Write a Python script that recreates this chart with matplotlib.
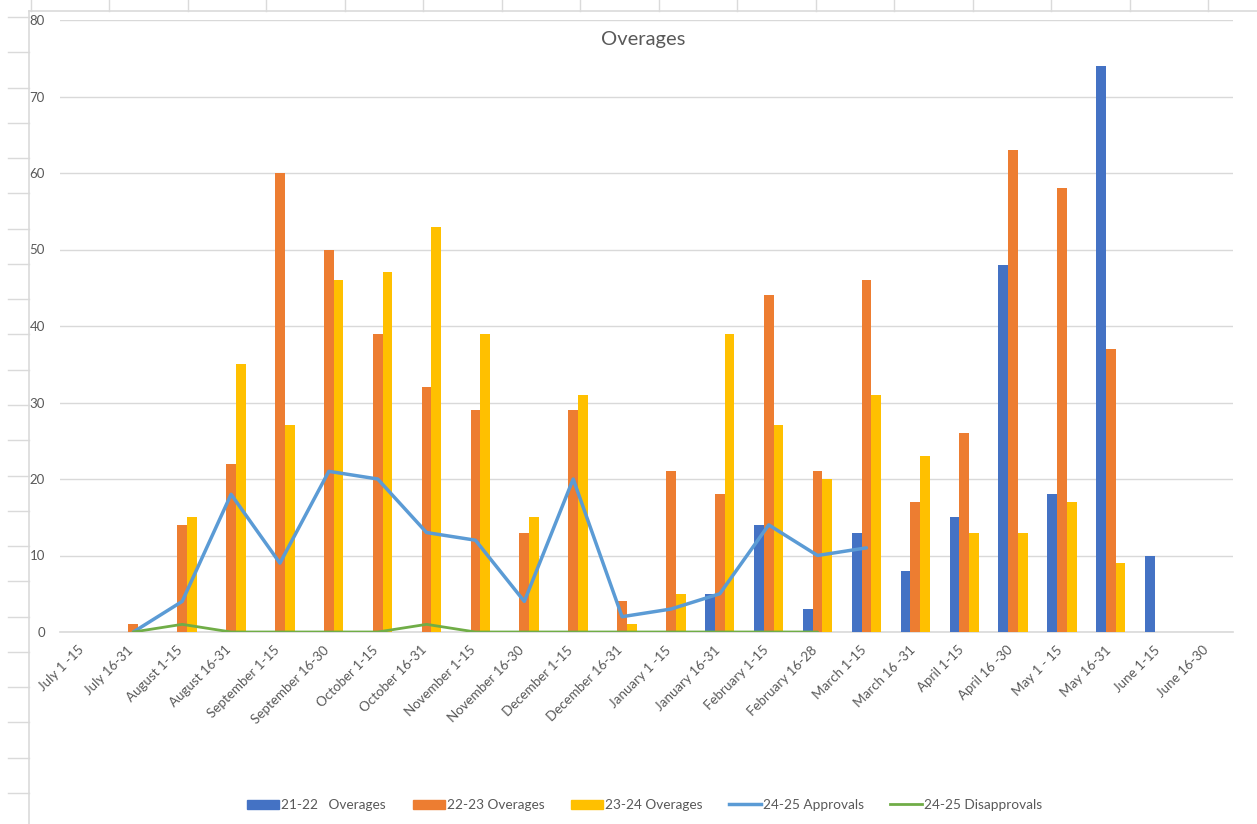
import numpy as np
import matplotlib.pyplot as plt
from matplotlib.lines import Line2D
from matplotlib.patches import Patch
from matplotlib.transforms import ScaledTranslation

plt.rcParams["font.family"] = ["Lato", "DejaVu Sans"]

W, H = 1257, 824
nan = np.nan

periods = [
    "July 1 -15", "July 16-31", "August 1-15", "August 16-31",
    "September 1-15", "September 16-30", "October 1-15", "October 16-31",
    "November 1-15", "November 16-30", "December 1-15", "December 16-31",
    "January 1 -15", "January 16-31", "February 1-15", "February 16-28",
    "March 1-15", "March 16 -31", "April 1-15", "April 16 -30",
    "May 1 - 15", "May 16-31", "June 1-15", "June 16-30",
]

over_21_22 = [nan, nan, nan, nan, nan, nan, nan, nan, nan, nan, nan, nan,
              nan, 5, 14, 3, 13, 8, 15, 48, 18, 74, 10, nan]
over_22_23 = [nan, 1, 14, 22, 60, 50, 39, 32, 29, 13, 29, 4,
              21, 18, 44, 21, 46, 17, 26, 63, 58, 37, nan, nan]
over_23_24 = [nan, nan, 15, 35, 27, 46, 47, 53, 39, 15, 31, 1,
              5, 39, 27, 20, 31, 23, 13, 13, 17, 9, nan, nan]
approvals_24_25 = [nan, 0, 4, 18, 9, 21, 20, 13, 12, 4, 20, 2,
                   3, 5, 14, 10, 11, nan, nan, nan, nan, nan, nan, nan]
disapprovals_24_25 = [nan, 0, 1, 0, 0, 0, 0, 1, 0, 0, 0, 0,
                      0, 0, 0, 0, nan, nan, nan, nan, nan, nan, nan, nan]

C_BLUE = "#4472C4"
C_ORANGE = "#ED7D31"
C_YELLOW = "#FFC000"
C_LBLUE = "#5B9BD5"
C_GREEN = "#70AD47"
GRID = "#D9D9D9"
TXT = "#595959"


def px(x, y):
    return x / W, 1 - y / H


def main():
    fig = plt.figure(figsize=(W / 100, H / 100), dpi=100)
    fig.patch.set_facecolor("white")

    # spreadsheet cell lines behind the chart
    sheet = "#DADADA"
    fig.add_artist(Line2D([px(29, 0)[0], 1], [px(0, 11)[1]] * 2,
                          color=sheet, lw=1.2, transform=fig.transFigure))
    fig.add_artist(Line2D([px(29, 0)[0]] * 2, [px(0, 11)[1], 0],
                          color=sheet, lw=1.2, transform=fig.transFigure))
    for k in range(16):
        x = 31 + 78.47 * k
        fig.add_artist(Line2D([x / W] * 2, [1, px(0, 11)[1]],
                              color=sheet, lw=1.0, transform=fig.transFigure))
    for k in range(23):
        y = 17 + 35.27 * k
        fig.add_artist(Line2D([8 / W, 29 / W], [px(0, y)[1]] * 2,
                              color=sheet, lw=1.0, transform=fig.transFigure))

    left, right, top, bottom = 60, 1233, 20, 632
    ax = fig.add_axes([left / W, 1 - bottom / H, (right - left) / W, (bottom - top) / H])
    ax.set_facecolor("none")

    x = np.arange(len(periods))
    w = 0.2
    ax.bar(x - w, over_21_22, w, color=C_BLUE, zorder=2)
    ax.bar(x, over_22_23, w, color=C_ORANGE, zorder=2)
    ax.bar(x + w, over_23_24, w, color=C_YELLOW, zorder=2)
    ax.plot(x, approvals_24_25, color=C_LBLUE, lw=2.5, zorder=4,
            solid_joinstyle="round", solid_capstyle="round")
    ax.plot(x, disapprovals_24_25, color=C_GREEN, lw=2.0, zorder=4,
            solid_joinstyle="round", solid_capstyle="round")

    ax.set_xlim(-0.5, len(periods) - 0.5)
    ax.set_ylim(0, 80)
    ax.set_yticks(range(0, 81, 10))
    ax.yaxis.grid(True, color=GRID, lw=1.0, zorder=0)
    ax.set_axisbelow(True)
    for s in ["top", "right", "left"]:
        ax.spines[s].set_visible(False)
    ax.spines["bottom"].set_color(GRID)
    ax.spines["bottom"].set_linewidth(1.2)
    ax.spines["bottom"].set_zorder(1)

    ax.tick_params(axis="y", length=0, pad=10.8, labelsize=9.5, labelcolor=TXT)
    ax.tick_params(axis="x", length=0, pad=0, labelsize=9.6, labelcolor=TXT)
    ax.set_xticks(x)
    ax.set_xticklabels(periods, rotation=45, ha="right", va="center",
                       rotation_mode="anchor")
    offset = ScaledTranslation(-2 / 100, -16 / 100, fig.dpi_scale_trans)
    for lab in ax.get_xticklabels():
        lab.set_transform(lab.get_transform() + offset)

    fig.text(643 / W, 1 - 40 / H, "Overages", ha="center", va="center",
             fontsize=14.5, color=TXT)

    handles = [
        Patch(color=C_BLUE, label="21-22   Overages"),
        Patch(color=C_ORANGE, label="22-23 Overages"),
        Patch(color=C_YELLOW, label="23-24 Overages"),
        Line2D([], [], color=C_LBLUE, lw=2.5, label="24-25 Approvals"),
        Line2D([], [], color=C_GREEN, lw=2.0, label="24-25 Disapprovals"),
    ]
    fig.legend(handles=handles, loc="center", bbox_to_anchor=px(645, 805),
               ncol=5, frameon=False, fontsize=9.8, handlelength=2.35,
               handleheight=0.6, handletextpad=0.15, columnspacing=1.95,
               labelcolor=TXT)

    fig.savefig("out.png", dpi=100, facecolor="white")
    plt.close(fig)


if __name__ == "__main__":
    main()
